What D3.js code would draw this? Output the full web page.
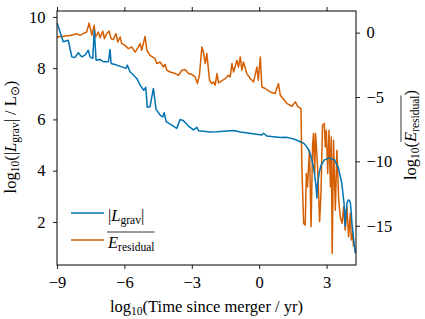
<!DOCTYPE html>
<html>
<head>
<meta charset="utf-8">
<script src="https://cdn.jsdelivr.net/npm/d3@7"></script>
<style>
  body { margin: 0; background: #fff; }
</style>
</head>
<body>
<div id="chart"></div>
<script>
// log10(time since merger / yr) and log10 |L_grav| (left axis)
const gravX = [-9.0, -8.72, -8.5, -8.34, -8.2, -8.05, -7.9, -7.75, -7.61, -7.53, -7.41, -7.34, -7.26, -7.08,
  -6.94, -6.71, -6.64, -6.59, -6.34, -6.12, -5.93, -5.87, -5.75, -5.45, -5.3, -5.14, -5.05, -4.98, -4.86,
  -4.71, -4.59, -4.41, -4.29, -4.23, -4.14, -3.89, -3.67, -3.52, -3.37, -3.15, -2.92, -2.77, -2.7, -2.18,
  -1.88, -1.14, -0.84, 0.12, 0.19, 0.35, 0.94, 1.24, 1.53, 1.83, 1.98, 2.08, 2.2, 2.3, 2.4, 2.47, 2.53, 2.57,
  2.6, 2.68, 2.75, 2.9, 3.13, 3.35, 3.52, 3.68, 3.78, 3.83,
  3.87, 3.91, 3.96, 4.02, 4.06, 4.1, 4.13, 4.2, 4.28]
const gravY = [9.77, 9.03, 9.09, 8.44, 8.42, 8.6, 8.44, 8.51, 8.7, 8.44, 8.38, 9.48, 8.31, 8.34,
  8.25, 8.25, 8.73, 8.18, 8.12, 8.05, 7.99, 8.12, 7.86, 7.6, 7.34, 7.14, 7.25, 6.47, 6.49,
  7.21, 6.39, 6.17, 6.1, 6.26, 5.91, 5.78, 5.65, 6.0, 5.95, 5.74, 5.59, 5.69, 5.56, 5.51,
  5.52, 5.57, 5.51, 5.39, 5.46, 5.35, 5.29, 5.3, 5.24, 5.13, 5.07, 4.98, 4.81, 4.58, 4.2, 3.85, 3.4, 2.93,
  3.5, 3.95, 4.2, 4.42, 4.5, 4.42, 4.12, 3.5, 2.7, 1.82,
  2.4, 2.73, 2.86, 2.84, 2.73, 2.35, 1.95, 1.35, 0.78]

// log10 of residual energy (right axis)
const resX = [-9.0, -8.72, -8.42, -8.27, -8.12, -7.98, -7.83, -7.68, -7.57, -7.45, -7.35, -7.28, -7.16, -7.08,
  -6.96, -6.89, -6.79, -6.68, -6.59, -6.49, -6.38, -6.29, -6.19, -6.12, -5.97, -5.82, -5.67, -5.52, -5.38,
  -5.3, -5.23, -5.08, -5.0, -4.86, -4.63, -4.56, -4.41, -4.26, -4.19, -4.11, -3.96, -3.74, -3.59, -3.44,
  -3.3, -3.15, -3.0, -2.85, -2.75, -2.66, -2.55, -2.48, -2.4, -2.33, -2.21, -2.11, -2.03, -1.96, -1.88,
  -1.81, -1.74, -1.51, -1.37, -1.29, -1.21, -1.14, -0.99, -0.92, -0.84, -0.77, -0.7, -0.55, -0.4, -0.25,
  -0.1, -0.04, 0.05, 0.12, 0.27, 0.49, 0.71, 0.86, 0.94, 1.24, 1.46, 1.61, 1.71, 1.86,
  1.9, 1.98, 2.05, 2.1, 2.15, 2.24, 2.31, 2.38, 2.42, 2.47, 2.51, 2.57, 2.62, 2.69, 2.75, 2.82, 2.9,
  2.94, 2.99, 3.05, 3.11, 3.17, 3.21, 3.25, 3.31, 3.39, 3.46, 3.54, 3.61, 3.69, 3.76, 3.83, 3.91, 3.98,
  4.06, 4.1, 4.16, 4.2]
const resY = [-0.34, -0.29, -0.23, -0.16, -0.08, -0.21, -0.08, 0.05, 0.74, -0.21, 0.57, -0.34, 0.05, -0.39,
  0.12, -0.47, -0.08, 0.12, -0.47, -0.54, -0.08, -0.73, -0.34, -0.85, -0.99, -1.24, -1.12, -1.51, -1.12,
  -0.85, -1.37, -0.29, -1.37, -1.76, -2.02, -2.4, -2.28, -2.67, -2.46, -2.92, -3.06, -3.18, -3.31, -2.92,
  -2.87, -3.18, -3.24, -3.44, -3.96, -3.31, -1.12, -1.51, -2.4, -1.63, -3.7, -3.96, -3.83, -4.09, -3.18,
  -3.91, -3.83, -3.57, -3.31, -3.44, -2.4, -3.06, -2.15, -2.67, -1.89, -2.92, -2.28, -3.18, -3.57, -3.83,
  -2.67, -3.7, -1.89, -4.22, -4.34, -4.61, -4.73, -3.96, -4.86, -5.51, -5.72, -5.38, -5.72, -5.9,
  -10.43, -14.82, -14.95, -10.94, -11.98, -9.13, -15.08, -8.61, -7.84, -10.94, -7.84, -9.52, -11.2, -14.69, -12.49, -7.19, -7.06,
  -8.88, -7.58, -10.94, -7.58, -11.98, -8.1, -17.15, -8.36, -13.79, -9.13, -13.01, -14.31, -14.82, -13.53, -15.34, -13.53, -15.86,
  -14.04, -16.11, -15.59, -16.63]

const xTicks = [-9, -6, -3, 0, 3]
const leftTicks = [2, 4, 6, 8, 10]
const rightTicks = [0, -5, -10, -15]

const margin = { top: 11, left: 57, right: 69, bottom: 54 }
const width = 425 - margin.left - margin.right
const height = 319 - margin.top - margin.bottom

const blue = '#0173b2'
const orange = '#d55e00'
const serif = 'Liberation Serif'
const fs = '16.5px'
const sub = '11.5px'

const svg = d3
  .select('#chart')
  .append('svg')
  .attr('width', 425)
  .attr('height', 319)
  .append('g')
  .attr('transform', 'translate(' + margin.left + ',' + margin.top + ')')

const x = d3.scaleLinear().domain([-9, 4.31]).range([0, width])
const yL = d3.scaleLinear().domain([0.32, 10.23]).range([height, 0])
const yR = d3.scaleLinear().domain([-18.05, 1.68]).range([height, 0])

const fmt = d => (d < 0 ? '\u2212' + Math.abs(d) : String(d))

function styleAxis(g, showText) {
  g.select('.domain').remove()
  g.selectAll('line').attr('stroke', '#000').attr('stroke-width', 0.9)
  g.selectAll('text')
    .attr('fill', '#000')
    .style('font-family', serif)
    .style('font-size', fs)
  if (!showText) g.selectAll('text').remove()
}

svg.append('g')
  .attr('transform', `translate(0,${height})`)
  .call(d3.axisBottom(x).tickValues(xTicks).tickFormat(fmt).tickSize(4).tickPadding(7))
  .call(g => styleAxis(g, true))
svg.append('g')
  .call(d3.axisTop(x).tickValues(xTicks).tickSize(4))
  .call(g => styleAxis(g, false))
svg.append('g')
  .call(d3.axisLeft(yL).tickValues(leftTicks).tickFormat(fmt).tickSize(4).tickPadding(7.5))
  .call(g => styleAxis(g, true))
svg.append('g')
  .attr('transform', `translate(${width},0)`)
  .call(d3.axisRight(yR).tickValues(rightTicks).tickFormat(fmt).tickSize(4).tickPadding(6.5))
  .call(g => styleAxis(g, true))

const lineL = d3.line().x((d, i) => x(gravX[i])).y(d => yL(d))
const lineR = d3.line().x((d, i) => x(resX[i])).y(d => yR(d))

svg.append('defs').append('clipPath').attr('id', 'clip')
  .append('rect').attr('width', width).attr('height', height)

const plot = svg.append('g').attr('clip-path', 'url(#clip)')
plot.append('path')
  .datum(resY)
  .attr('d', lineR)
  .attr('fill', 'none')
  .attr('stroke', orange)
  .attr('stroke-width', 1.5)
  .attr('stroke-linejoin', 'round')
plot.append('path')
  .datum(gravY)
  .attr('d', lineL)
  .attr('fill', 'none')
  .attr('stroke', blue)
  .attr('stroke-width', 1.5)
  .attr('stroke-linejoin', 'round')

svg.append('rect')
  .attr('width', width)
  .attr('height', height)
  .attr('fill', 'none')
  .attr('stroke', '#000')
  .attr('stroke-width', 1)

// builds a label out of [text, kind] parts: '' plain, 'i' italic, 's' subscript
function rich(t, parts) {
  t.style('font-family', serif).style('font-size', fs)
  parts.forEach(p => {
    const s = t.append('tspan').text(p[0])
    if (p[1] === 'i') s.style('font-style', 'italic')
    if (p[1] === 's') s.attr('baseline-shift', '-25%').style('font-size', sub)
  })
  return t
}

// x label
rich(svg.append('text')
  .attr('x', width / 2)
  .attr('y', height + 47)
  .attr('text-anchor', 'middle'),
[['log', ''], ['10', 's'], ['(Time since merger / yr)', '']])

// left y label
rich(svg.append('text')
  .attr('transform', `translate(${-41},${height / 2 - 1}) rotate(-90)`)
  .attr('text-anchor', 'middle'),
[['log', ''], ['10', 's'], ['(|', ''], ['L', 'i'], ['grav', 's'], ['| / L', ''], ['\u2299', 's'], [')', '']])

// right y label
const yrPos = `translate(${width + 60},${height / 2 - 3}) rotate(-90)`
const yr = rich(svg.append('text')
  .attr('transform', yrPos)
  .attr('text-anchor', 'middle'),
[['log', ''], ['10', 's'], ['(', ''], ['E', 'i'], ['residual', 's'], [')', '']])

// overline over E_residual on right label
{
  const n = yr.node()
  const start = n.getStartPositionOfChar(6)
  const end = n.getEndPositionOfChar(14)
  svg.append('line')
    .attr('transform', yrPos)
    .attr('x1', start.x).attr('x2', end.x)
    .attr('y1', -15).attr('y2', -15)
    .attr('stroke', '#000').attr('stroke-width', 0.8)
}

// legend
const legend = svg.append('g').attr('transform', 'translate(14,202)')
const items = [
  { color: blue, parts: [['|', ''], ['L', 'i'], ['grav', 's'], ['|', '']] },
  { color: orange, parts: [['E', 'i'], ['residual', 's']], over: true }
]
items.forEach((it, i) => {
  const g = legend.append('g').attr('transform', `translate(0,${i * 27})`)
  g.append('line')
    .attr('x1', 0).attr('x2', 33)
    .attr('stroke', it.color).attr('stroke-width', 1.5)
  const t = rich(g.append('text').attr('x', 37).attr('y', 7.5), it.parts)
  if (it.over) {
    const bb = t.node().getBBox()
    g.append('line')
      .attr('x1', bb.x).attr('x2', bb.x + bb.width)
      .attr('y1', -8).attr('y2', -8)
      .attr('stroke', '#000').attr('stroke-width', 0.8)
  }
})
</script>
</body>
</html>
